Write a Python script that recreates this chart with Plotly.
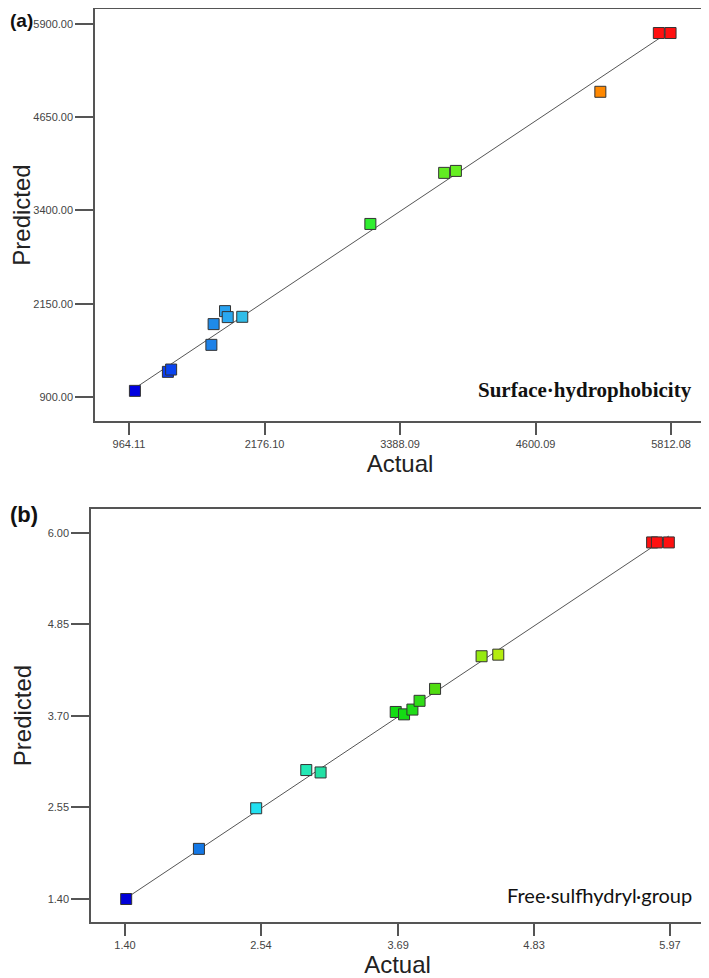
import plotly.graph_objects as go

# ---- Panel (a): Surface hydrophobicity ----
actual_a = [1017, 1312, 1341, 1701, 1721, 1823, 1847, 1977, 3123, 3783, 3888, 5180, 5703, 5808]
predicted_a = [981, 1236, 1267, 1598, 1876, 2050, 1970, 1974, 3219, 3904, 3930, 4991, 5779, 5779]
colors_a = ["#0000e0", "#0a3cf0", "#0a44f0", "#1e82e8", "#1e8ae8", "#28a2f0", "#2aa8f0", "#30bce8",
            "#30ee30", "#62ec22", "#66ee22", "#ff8800", "#ff1010", "#ff1010"]
xticks_a = [964.11, 2176.10, 3388.09, 4600.09, 5812.08]
yticks_a = [900.00, 2150.00, 3400.00, 4650.00, 5900.00]

# ---- Panel (b): Free sulfhydryl group ----
actual_b = [1.41, 2.02, 2.50, 2.92, 3.04, 3.67, 3.74, 3.81, 3.87, 4.00, 4.39, 4.53, 5.82, 5.86, 5.96]
predicted_b = [1.40, 2.03, 2.54, 3.02, 2.99, 3.75, 3.72, 3.78, 3.89, 4.04, 4.45, 4.47, 5.88, 5.88, 5.88]
colors_b = ["#0000d8", "#1478e6", "#22e0f0", "#22e8b4", "#22e0a4", "#12dc12", "#14dc14", "#20dc18",
            "#30dc18", "#50dc10", "#96ea10", "#b4ec10", "#ff1010", "#ff1010", "#ff1010"]
xticks_b = [1.40, 2.54, 3.69, 4.83, 5.97]
yticks_b = [1.40, 2.55, 3.70, 4.85, 6.00]

# page has an 8px body margin: size the figure to fit and shift positions
OFF = 8
W, H = 709 - OFF, 978 - OFF
def fx(x):
    return (x - OFF) / W
def fy(y):
    return 1 - (y - OFF) / H

fig = go.Figure()
line_col = "#555555"

fig.add_trace(go.Scatter(x=[min(actual_a), max(actual_a)], y=[min(actual_a), max(actual_a)],
                         mode="lines", line=dict(color=line_col, width=1), xaxis="x", yaxis="y",
                         showlegend=False, hoverinfo="skip"))
fig.add_trace(go.Scatter(x=actual_a, y=predicted_a, mode="markers", xaxis="x", yaxis="y",
                         marker=dict(symbol="square", size=11, color=colors_a,
                                     line=dict(color="#333333", width=1)),
                         showlegend=False))
fig.add_trace(go.Scatter(x=[min(actual_b), max(actual_b)], y=[min(actual_b), max(actual_b)],
                         mode="lines", line=dict(color=line_col, width=1), xaxis="x2", yaxis="y2",
                         showlegend=False, hoverinfo="skip"))
fig.add_trace(go.Scatter(x=actual_b, y=predicted_b, mode="markers", xaxis="x2", yaxis="y2",
                         marker=dict(symbol="square", size=11, color=colors_b,
                                     line=dict(color="#333333", width=1)),
                         showlegend=False))

tickfont = dict(family="Liberation Sans, Arial", size=11, color="#444444")
titlefont = dict(family="Liberation Sans, Arial", size=24, color="#222222")

def xax(domain, rng, ticks, anchor):
    return dict(domain=domain, range=rng, anchor=anchor, tickvals=ticks, automargin=False,
                ticktext=["{:.2f}".format(t) for t in ticks], ticks="outside", ticklen=12,
                tickcolor=line_col, tickwidth=1.5, showline=True, linecolor=line_col, linewidth=1.5,
                mirror=True, showgrid=False, zeroline=False, tickfont=tickfont,
                title=dict(text="Actual", font=titlefont, standoff=3))

def yax(domain, rng, ticks, anchor, standoff):
    return dict(domain=domain, range=rng, anchor=anchor, tickvals=ticks, automargin=False,
                ticktext=["{:.2f}".format(t) for t in ticks], ticks="outside", ticklen=18,
                tickcolor=line_col, tickwidth=1.5, showline=True, linecolor=line_col, linewidth=1.5,
                mirror=True, showgrid=False, zeroline=False, tickfont=tickfont,
                title=dict(text="Predicted", font=titlefont, standoff=standoff))

fig.update_layout(
    width=W, height=H, margin=dict(l=0, r=0, t=0, b=0),
    paper_bgcolor="white", plot_bgcolor="white",
    xaxis=xax([fx(95), fx(705)], [660, 6116], xticks_a, "y"),
    yaxis=yax([fy(421), fy(9)], [577, 6101], yticks_a, "x", 2),
    xaxis2=xax([fx(91), fx(704)], [1.115, 6.255], xticks_b, "y2"),
    yaxis2=yax([fy(922), fy(509)], [1.111, 6.30], yticks_b, "x2", 9),
    annotations=[
        dict(text="<b>(a)</b>", x=0.0, y=1.0, xref="paper", yref="paper", xanchor="left", yanchor="top",
             showarrow=False, font=dict(family="Liberation Sans, Arial", size=19, color="#111111")),
        dict(text="<b>(b)</b>", x=0.0, y=fy(500), xref="paper", yref="paper", xanchor="left", yanchor="top",
             showarrow=False, font=dict(family="Liberation Sans, Arial", size=22, color="#111111")),
        dict(text="<b>Surface·hydrophobicity</b>", x=fx(694), y=fy(390), xref="paper", yref="paper",
             xanchor="right", yanchor="middle", showarrow=False,
             font=dict(family="Liberation Serif, Times New Roman", size=21, color="#111111")),
        dict(text="Free·sulfhydryl·group", x=fx(694), y=fy(895), xref="paper", yref="paper",
             xanchor="right", yanchor="middle", showarrow=False,
             font=dict(family="Lato, Open Sans", size=20, color="#111111")),
    ],
)

fig.write_html("out.html")
